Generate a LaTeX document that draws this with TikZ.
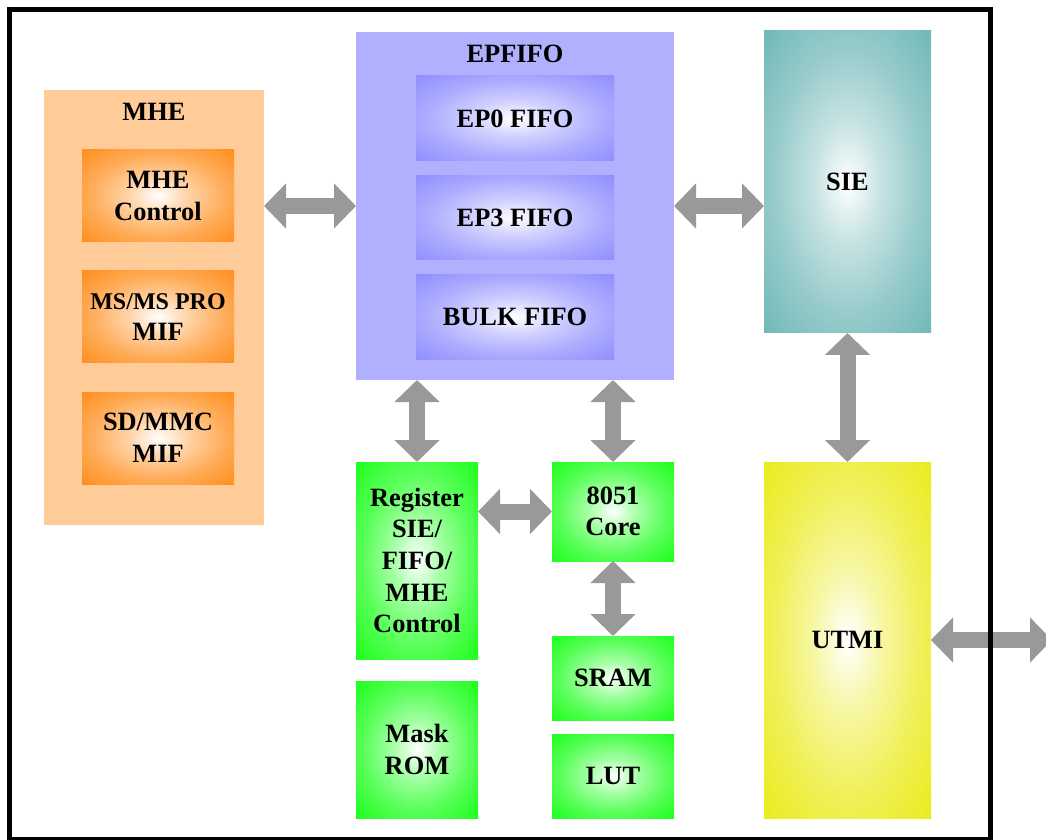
\documentclass[tikz,border=0pt]{standalone}
\usepackage{fontspec}
\setmainfont{Liberation Serif}
\usetikzlibrary{positioning,arrows.meta}
\definecolor{mhepeach}{HTML}{FFCC99}
\definecolor{mheorange}{HTML}{FF8000}
\definecolor{fifolilac}{HTML}{B0B0FF}
\definecolor{fifoblue}{HTML}{8080FF}
\definecolor{sieteal}{HTML}{5FAFAF}
\definecolor{utmiyellow}{HTML}{E8E800}
\definecolor{chipgreen}{HTML}{00FF00}
\definecolor{linkgray}{HTML}{999999}
\makeatletter
\pgfdeclareradialshading[tikz@radial@inner,tikz@radial@outer]{glow}{\pgfpointorigin}{color(0bp)=(tikz@radial@inner); color(10bp)=(tikz@radial@outer!35!tikz@radial@inner); color(22bp)=(tikz@radial@outer!65!tikz@radial@inner); color(35bp)=(tikz@radial@outer!88!tikz@radial@inner); color(46bp)=(tikz@radial@outer); color(50bp)=(tikz@radial@outer)}
\makeatother
\tikzset{panel/.style={fill=#1, inner sep=0pt, outer sep=0pt},
         title/.style={label={[anchor=north, yshift=-6.3pt, inner sep=0pt]north:#1}},
         glowbox/.style={inner color=white, outer color=#1, shading=glow, inner sep=0pt, outer sep=0pt, align=center},
         mif/.style={glowbox=mheorange, minimum width=76pt, minimum height=46pt},
         fifo/.style={glowbox=fifoblue, minimum width=99pt, minimum height=42.4pt},
         chip/.style={glowbox=chipgreen, minimum width=61pt},
         link/.style={draw=linkgray, line width=8pt, {Triangle[length=11pt,width=22pt]}-{Triangle[length=11pt,width=22pt]}}}

\begin{document}
\begin{tikzpicture}[x=0.5pt, y=-0.5pt, every node/.style={font=\bfseries\fontsize{13.2}{15.8}\selectfont}]
    \useasboundingbox (0,0) rectangle (1046,840);

    % MHE
    \node[panel=mhepeach, minimum width=110pt, minimum height=217.5pt, title=MHE] (mhe) at (154,307.5) {};
    \node[mif]                      (mhectl) at (158,196) {MHE\\Control};
    \node[mif,below=14.5pt of mhectl] (msmif) {{\fontsize{12}{15.8}\selectfont MS/MS PRO}\\MIF};
    \node[mif,below=14.5pt of msmif]  (sdmif) {SD/MMC\\MIF};

    % EPFIFO
    \node[panel=fifolilac, minimum width=159pt, minimum height=174pt, title=EPFIFO] (epfifo) at (515,206) {};
    \node[fifo]                     (ep0) at (515,118.4) {EP0 FIFO};
    \node[fifo,below=7.2pt of ep0]  (ep3) {EP3 FIFO};
    \node[fifo,below=7.2pt of ep3]  (bulk) {BULK FIFO};

    % SIE / UTMI
    \node[glowbox=sieteal, minimum width=83.5pt, minimum height=151pt]   (sie)  at (847.5,182) {SIE};
    \node[glowbox=utmiyellow, minimum width=83.5pt, minimum height=178pt] (utmi) at (847.5,640) {UTMI};
    \coordinate (usb) at (1052,640);

    % 8051 side
    \node[chip, minimum height=98.5pt] (reg) at (417,560.5) {Register\\SIE/\\FIFO/\\MHE\\Control};
    \node[chip, minimum height=49.5pt, right=37pt of reg.north east, anchor=north west] (core) {8051\\Core};
    \node[chip, minimum height=42pt, below=37.5pt of core] (sram) {SRAM};
    \node[chip, minimum height=42pt, below=7pt of sram]    (lut)  {LUT};
    \node[chip, minimum height=68.5pt, below=11pt of reg]  (rom)  {Mask\\ROM};

    \draw[link]               (mhe.east |- epfifo.west) -- (epfifo.west);
    \draw[link]               (epfifo.east) -- (epfifo.east -| sie.west);
    \draw[link]               (reg.north) -- (reg.north |- epfifo.south);
    \draw[link]               (core.north) -- (core.north |- epfifo.south);
    \draw[link]               (reg.east |- core.west) -- (core.west);
    \draw[link]               (core) -- (sram);
    \draw[link]               (sie) -- (utmi);
    \draw[link]               (utmi) -- (usb);

    % chip outline
    \draw[line width=2.5pt] (9.2,9.2) rectangle (990.8,839.8);
\end{tikzpicture}
\end{document}
